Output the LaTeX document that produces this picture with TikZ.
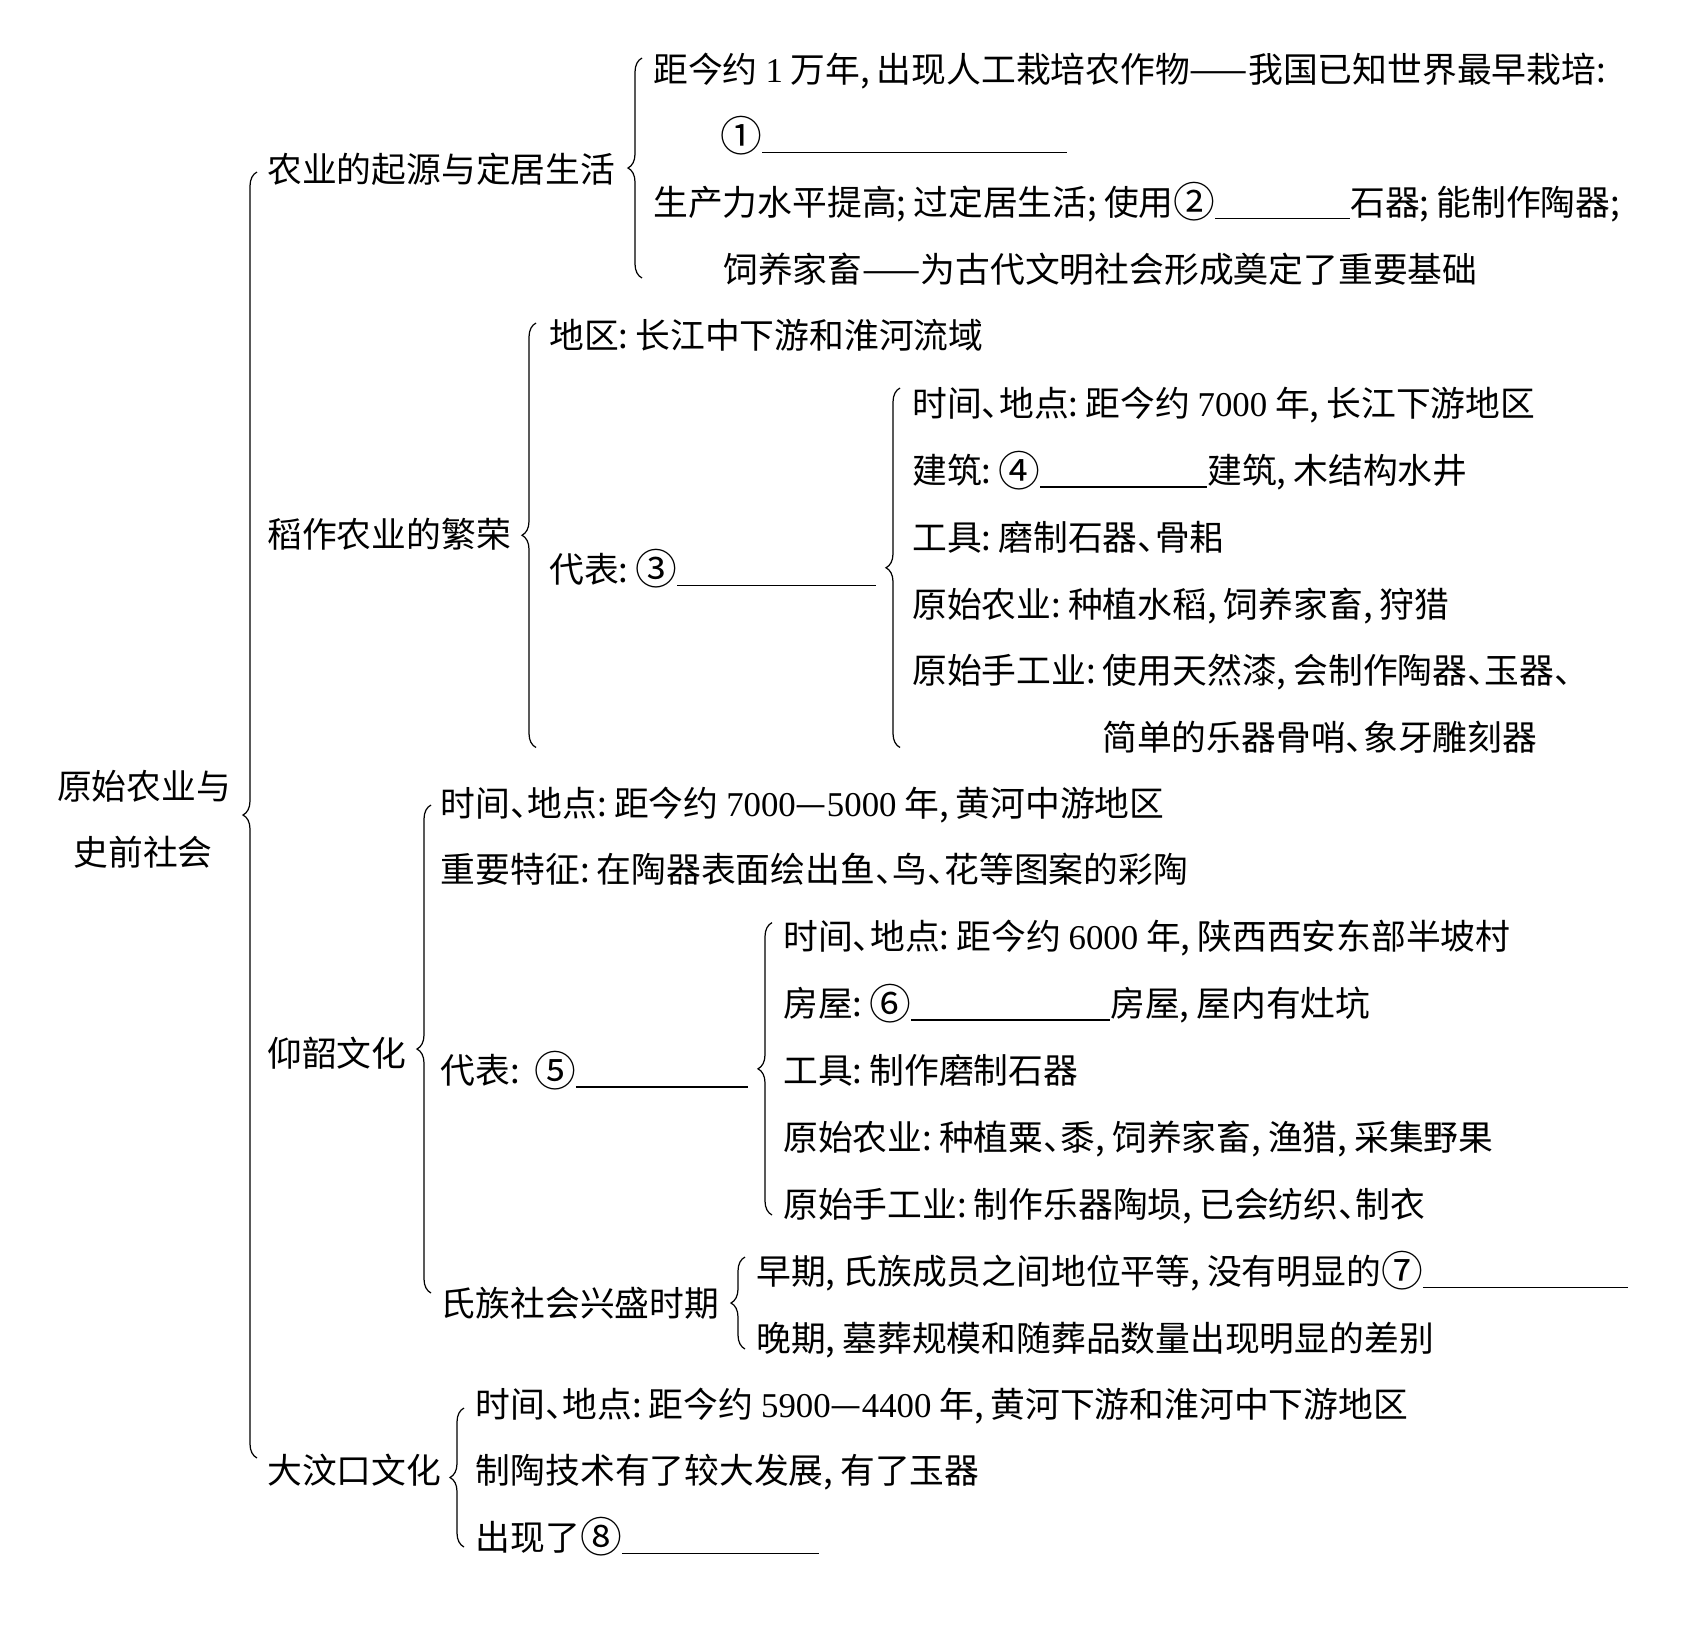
\documentclass[tikz,border=0pt]{standalone}
\usepackage{fontspec}
\setmainfont{Noto Sans CJK SC}
\newfontfamily\numfont{Liberation Serif}
\usetikzlibrary{decorations.pathreplacing}
\newcommand{\blank}[1]{\rule[-0.12em]{#1}{0.8pt}}
\newcommand{\dou}{,\hspace{0.2em}}
\newcommand{\mao}{:\hspace{0.2em}}
\newcommand{\fen}{;\hspace{0.2em}}
\newcommand{\dun}{\makebox[0.5em][l]{、}}
\newcommand{\num}[1]{{\numfont #1}}
\newcommand{\quan}[1]{\raisebox{-0.08em}{\scalebox{1.2}{#1}}}
\tikzset{
  item/.style={anchor=west, inner sep=0pt, text height=0.88em, text depth=0.12em,
    yshift=-0.15cm, font=\fontsize{19.8pt}{24pt}\selectfont},
  bracket/.style={decorate, decoration={brace, amplitude=0.28cm}, line width=0.7pt},
}

\begin{document}
\begin{tikzpicture}[x=0.02cm, y=-0.02cm]
\useasboundingbox (0,0) rectangle (1706,1640);
% ---------- root and first level ----------
\node[item, anchor=center] (root1) at (144,785) {原始农业与};
\node[item, anchor=center] (root2) at (143,851) {史前社会};
\draw[bracket] (257,1458) -- (257,172);
\node[item] (agri) at (267,168.6) {农业的起源与定居生活};
\node[item] (rice) at (267,533) {稻作农业的繁荣};
\node[item] (yang) at (267,1052) {仰韶文化};
\node[item] (dwk) at (267,1469) {大汶口文化};
% ---------- 农业的起源与定居生活 ----------
\draw[bracket] (642,278) -- (642,58);
\node[item] (agri1) at (653,68.5) {距今约 \num{1} 万年\dou 出现人工栽培农作物——我国已知世界最早栽培\mao};
\node[item] (agri2) at (720,135) {\quan{①}\blank{6.1cm}};
\node[item] (agri3) at (653,201) {生产力水平提高\fen 过定居生活\fen 使用\quan{②}\blank{2.7cm}石器\fen 能制作陶器\fen};
\node[item] (agri4) at (723,268) {饲养家畜——为古代文明社会形成奠定了重要基础};
% ---------- 稻作农业的繁荣 ----------
\draw[bracket] (536,747.5) -- (536,323);
\node[item] (area) at (549,334) {地区\mao 长江中下游和淮河流域};
\node[item] (rep3) at (549,568) {代表\mao\quan{③}\blank{3.98cm}};
\draw[bracket] (900,747.5) -- (900,388);
\foreach \t [count=\i] in {{时间\dun 地点\mao 距今约 \num{7000} 年\dou 长江下游地区},
    {建筑\mao\quan{④}\blank{3.34cm}建筑\dou 木结构水井}, {工具\mao 磨制石器\dun 骨耜},
    {原始农业\mao 种植水稻\dou 饲养家畜\dou 狩猎}, {原始手工业\mao 使用天然漆\dou 会制作陶器\dun 玉器\dun}}
  \node[item] (hmd\i) at (912,{402.6+(\i-1)*66.8}) {\t};
\node[item] (hmd6) at (1102,736.6) {简单的乐器骨哨\dun 象牙雕刻器};
% ---------- 仰韶文化 ----------
\draw[bracket] (431,1293) -- (431,805);
\node[item] (ys1) at (440.6,802) {时间\dun 地点\mao 距今约 \num{7000}—\num{5000} 年\dou 黄河中游地区};
\node[item] (ys2) at (440.6,868) {重要特征\mao 在陶器表面绘出鱼\dun 鸟\dun 花等图案的彩陶};
\node[item] (rep5) at (440.6,1069.5) {代表\mao\hspace{0.2em}\quan{⑤}\blank{3.44cm}};
\node[item] (clan) at (440.6,1302) {氏族社会兴盛时期};
\draw[bracket] (772,1215) -- (772,922.6);
\foreach \t [count=\i] in {{时间\dun 地点\mao 距今约 \num{6000} 年\dou 陕西西安东部半坡村},
    {房屋\mao\quan{⑥}\blank{3.98cm}房屋\dou 屋内有灶坑}, {工具\mao 制作磨制石器},
    {原始农业\mao 种植粟\dun 黍\dou 饲养家畜\dou 渔猎\dou 采集野果}, {原始手工业\mao 制作乐器陶埙\dou 已会纺织\dun 制衣}}
  \node[item] (bp\i) at (783,{935.7+(\i-1)*66.8}) {\t};
\draw[bracket] (745,1349) -- (745,1257);
\node[item] (clan1) at (756,1270) {早期\dou 氏族成员之间地位平等\dou 没有明显的\quan{⑦}\blank{4.1cm}};
\node[item] (clan2) at (756,1337) {晚期\dou 墓葬规模和随葬品数量出现明显的差别};
% ---------- 大汶口文化 ----------
\draw[bracket] (464,1547) -- (464,1408);
\node[item] (dwk1) at (475.5,1403.5) {时间\dun 地点\mao 距今约 \num{5900}—\num{4400} 年\dou 黄河下游和淮河中下游地区};
\node[item] (dwk2) at (475.5,1469) {制陶技术有了较大发展\dou 有了玉器};
\node[item] (dwk3) at (475.5,1536) {出现了\quan{⑧}\blank{3.95cm}};
\end{tikzpicture}
\end{document}
